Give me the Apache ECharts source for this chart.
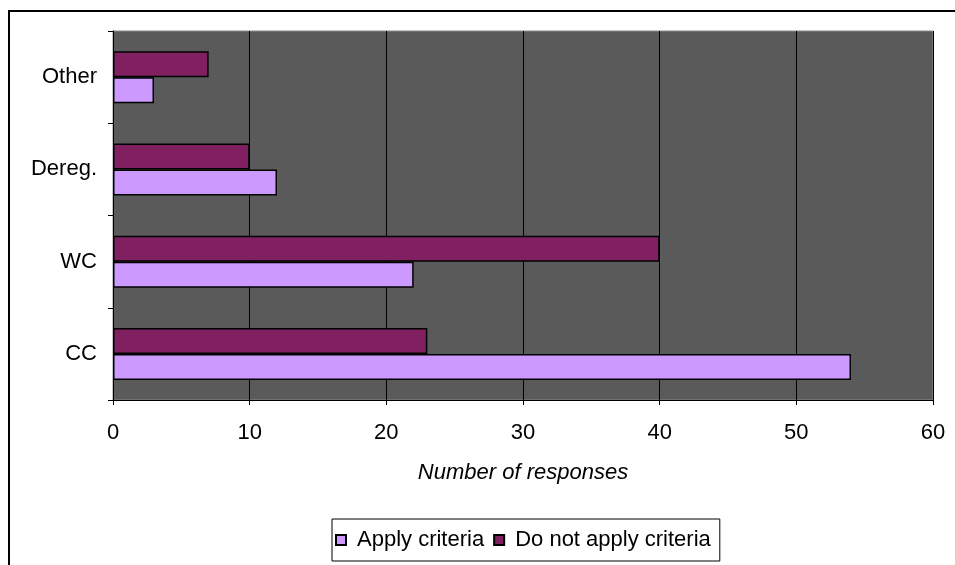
<!DOCTYPE html>
<html>
<head>
<meta charset="utf-8">
<script src="https://cdn.jsdelivr.net/npm/echarts@6/dist/echarts.min.js"></script>
<style>
html, body { margin: 0; padding: 0; background: #fff; }
#chart { width: 955px; height: 565px; }
</style>
</head>
<body>
<div id="chart"></div>
<script>
// Response categories, listed bottom to top
const categories = ['CC', 'WC', 'Dereg.', 'Other'];
const applyCriteria = [54, 22, 12, 3];
const doNotApplyCriteria = [23, 40, 10, 7];
const xTicks = [0, 10, 20, 30, 40, 50, 60];

const font = '"Liberation Sans", Arial, sans-serif';
const chart = echarts.init(document.getElementById('chart'));

chart.setOption({
  animation: false,
  backgroundColor: '#ffffff',
  graphic: [{
    type: 'rect',
    shape: { x: 9, y: 11, width: 1200, height: 1200 },
    style: { fill: 'none', stroke: '#000', lineWidth: 2 },
    silent: true
  }],
  grid: {
    left: 113, top: 31, right: 22, bottom: 165,
    show: true,
    backgroundColor: '#5a5a5a',
    borderColor: '#8a8a8a',
    borderWidth: 1
  },
  legend: {
    left: 332, top: 519,
    padding: [10, 9, 10, 3],
    borderColor: '#000', borderWidth: 1,
    itemWidth: 10, itemHeight: 10, itemGap: 9,
    icon: 'rect',
    textStyle: { fontFamily: font, fontSize: 22, color: '#000', padding: [0, 0, 0, 6] },
    data: ['Apply criteria', 'Do not apply criteria']
  },
  xAxis: {
    type: 'value',
    min: xTicks[0], max: xTicks[xTicks.length - 1], interval: 10,
    name: 'Number of responses',
    nameLocation: 'middle', nameGap: 62,
    nameTextStyle: { fontFamily: font, fontSize: 22, fontStyle: 'italic', color: '#000' },
    axisLine: { show: true, lineStyle: { color: '#000', width: 1 } },
    axisTick: { show: true, length: 5, lineStyle: { color: '#000' } },
    axisLabel: { fontFamily: font, fontSize: 22, color: '#000', margin: 22 },
    splitLine: { show: true, lineStyle: { color: '#000', width: 1 } }
  },
  yAxis: {
    type: 'category',
    data: categories,
    axisLine: { show: true, lineStyle: { color: '#000', width: 1 } },
    axisTick: { show: true, length: 5, lineStyle: { color: '#000' } },
    axisLabel: { fontFamily: font, fontSize: 22, color: '#000', margin: 16 },
    splitLine: { show: false }
  },
  series: [
    {
      name: 'Do not apply criteria', type: 'bar', data: doNotApplyCriteria,
      barWidth: 26, barGap: '0%',
      itemStyle: { color: '#802060', borderColor: '#000', borderWidth: 1.5 }
    },
    {
      name: 'Apply criteria', type: 'bar', data: applyCriteria,
      barWidth: 26, barGap: '0%',
      itemStyle: { color: '#cc99ff', borderColor: '#000', borderWidth: 1.5 }
    }
  ]
});
</script>
</body>
</html>
